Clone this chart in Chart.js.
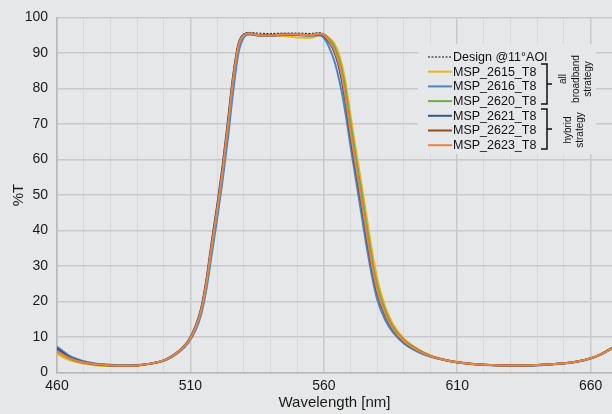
<!DOCTYPE html>
<html>
<head>
<meta charset="utf-8">
<script src="https://cdn.jsdelivr.net/npm/chart.js@4.4.1/dist/chart.umd.min.js"></script>
<style>
  html, body { margin: 0; padding: 0; background: #e6e7e9; overflow: hidden; }
  canvas { display: block; }
</style>
</head>
<body>
<canvas id="spectrum" width="612" height="414"></canvas>
<script>
// wavelength grid (nm), denser on the filter edges
const wavelengths = [460,465,470,475,480,485,490,495,500,503,506,509,512,514,516,518,520,522,524,526,528,530,532,535,540,545,550,555,558,560,562,564,566,568,570,572,574,576,578,580,583,586,590,595,600,605,610,620,630,640,650,655,660,664,668];

// %T
const design  = [6.2,4.0,2.8,2.2,1.9,1.8,1.9,2.4,3.3,4.4,6.1,8.4,12.7,17.3,25.1,35.8,45.8,56.8,69.4,82.9,92.4,95.4,95.8,95.6,95.5,95.6,95.6,95.5,95.7,95.4,93.7,91.2,86.3,78.5,68.1,58.5,49.3,39.7,30.6,23.3,16.6,12.3,8.9,6.3,4.6,3.6,2.9,2.2,2.0,2.1,2.6,3.1,4.0,5.2,6.8];
const msp2615 = [5.2,3.4,2.5,2.0,1.8,1.8,1.9,2.4,3.3,4.4,6.1,8.4,12.7,17.3,25.0,35.6,45.5,56.4,68.9,82.3,91.8,94.9,95.4,95.0,94.8,94.8,94.4,94.3,94.9,95.2,94.2,92.6,88.9,82.4,72.5,62.8,53.6,44.0,34.5,26.5,18.6,13.5,9.6,6.7,4.8,3.7,3.0,2.2,2.0,2.1,2.6,3.1,4.0,5.3,7.0];
const msp2616 = [7.3,4.6,3.2,2.5,2.2,2.0,2.1,2.5,3.3,4.3,5.9,8.1,12.0,16.3,23.5,33.3,43.3,53.8,65.6,79.0,90.0,94.4,95.2,94.9,94.8,95.1,95.1,94.9,95.0,94.3,91.6,87.6,81.6,73.6,63.8,54.4,45.0,35.6,27.3,20.6,14.8,11.2,8.2,5.9,4.4,3.5,2.8,2.1,1.9,2.0,2.5,3.0,3.9,5.1,6.8];
const msp2620 = [5.8,3.8,2.7,2.2,1.9,1.9,2.0,2.5,3.4,4.5,6.2,8.5,12.8,17.4,25.2,35.8,45.7,56.6,69.1,82.5,92.0,95.0,95.4,95.0,94.9,95.2,95.1,94.9,95.3,95.2,93.9,91.8,87.5,80.3,70.2,60.6,51.3,41.6,32.2,24.6,17.5,12.8,9.2,6.5,4.7,3.6,2.9,2.2,2.0,2.1,2.6,3.1,4.0,5.2,6.9];
const msp2621 = [6.8,4.2,3.0,2.3,2.0,1.9,2.0,2.5,3.4,4.6,6.3,8.7,13.2,18.0,26.2,37.0,47.0,58.0,70.6,83.6,92.6,95.2,95.5,95.1,94.9,95.2,95.1,95.0,95.3,94.9,93.0,90.2,84.9,76.8,66.4,56.9,47.8,38.3,29.5,22.4,16.1,12.0,8.7,6.2,4.6,3.6,2.9,2.2,2.0,2.1,2.6,3.1,4.0,5.2,6.9];
const msp2622 = [6.2,4.0,2.8,2.3,2.0,1.9,2.0,2.5,3.4,4.5,6.2,8.5,12.9,17.6,25.6,36.2,46.1,57.0,69.5,82.8,92.2,95.1,95.5,95.1,95.0,95.3,95.2,95.1,95.4,95.1,93.3,90.7,85.6,77.6,67.2,57.7,48.5,39.0,30.0,22.8,16.4,12.2,8.8,6.3,4.6,3.6,2.9,2.2,2.0,2.1,2.6,3.1,4.0,5.2,6.8];
const msp2623 = [6.0,3.9,2.8,2.3,2.0,1.9,2.0,2.5,3.4,4.5,6.2,8.5,12.8,17.4,25.2,35.8,45.6,56.5,69.0,82.4,92.0,95.0,95.5,95.1,94.9,95.2,95.2,95.0,95.4,95.1,93.4,90.8,86.1,78.2,67.8,58.3,49.1,39.5,30.5,23.2,16.6,12.3,8.9,6.3,4.6,3.6,2.9,2.2,2.0,2.1,2.6,3.1,4.0,5.2,6.8];

const seriesNames = ["Design @11°AOI", "MSP_2615_T8", "MSP_2616_T8", "MSP_2620_T8", "MSP_2621_T8", "MSP_2622_T8", "MSP_2623_T8"];
const seriesColors = ["#111111", "#efb320", "#4a87c7", "#6aae4a", "#2c5a8c", "#9a4a20", "#e8844a"];
const xLabelTicks = [460, 510, 560, 610, 660];
const xGridTicks = [460,470,480,490,500,510,520,530,540,550,560,570,580,590,600,610,620,630,640,650,660];
const xMin = 460, xMax = 668;
const yTicks = [0, 10, 20, 30, 40, 50, 60, 70, 80, 90, 100];

const allValues = [design, msp2615, msp2616, msp2620, msp2621, msp2622, msp2623];
const bg = "#e6e7e9";
const fontFam = "'Liberation Sans', Arial, Helvetica, sans-serif";

const datasets = allValues.map((vals, i) => ({
    label: seriesNames[i],
    data: wavelengths.map((w, j) => ({ x: w, y: vals[j] })),
    borderColor: seriesColors[i],
    borderWidth: i === 0 ? 1 : 2,
    borderDash: i === 0 ? [2, 1.5] : [],
    pointRadius: 0,
    cubicInterpolationMode: "monotone",
    fill: false,
    // design underneath, MSP_2623 on top
    order: i === 0 ? 10 : 8 - i
}));

const backdrop = {
    id: "backdrop",
    beforeDraw(chart) {
        const c = chart.ctx;
        c.save();
        c.fillStyle = bg;
        c.fillRect(0, 0, chart.width, chart.height);
        c.restore();
    }
};

const sideLegend = {
    id: "sideLegend",
    afterDraw(chart) {
        const c = chart.ctx;
        c.save();
        c.fillStyle = bg;
        c.fillRect(418, 44, 178, 110);

        const rowY0 = 57, rowStep = 14.7;
        c.font = "12.5px " + fontFam;
        c.textBaseline = "middle";
        c.textAlign = "left";
        chart.data.datasets.forEach((ds, i) => {
            const y = rowY0 + i * rowStep;
            c.beginPath();
            c.strokeStyle = ds.borderColor;
            c.lineWidth = i === 0 ? 1 : 2;
            c.setLineDash(ds.borderDash || []);
            c.moveTo(428, y);
            c.lineTo(452, y);
            c.stroke();
            c.setLineDash([]);
            c.fillStyle = "#111";
            c.fillText(ds.label, 453, y + 0.5);
        });

        // brackets
        c.strokeStyle = "#111";
        c.lineWidth = 1.5;
        const bracket = (y1, y2) => {
            const ym = (y1 + y2) / 2;
            c.beginPath();
            c.moveTo(541, y1); c.lineTo(547, y1); c.lineTo(547, y2); c.lineTo(541, y2);
            c.moveTo(547, ym); c.lineTo(552, ym);
            c.stroke();
        };
        bracket(64, 104);
        bracket(109, 149);

        // rotated group captions
        c.font = "10px " + fontFam;
        c.textAlign = "center";
        const vtext = (txt, x, y) => {
            c.save();
            c.translate(x, y);
            c.rotate(-Math.PI / 2);
            c.fillText(txt, 0, 0);
            c.restore();
        };
        vtext("all", 563, 79);
        vtext("broadband", 576.5, 79);
        vtext("strategy", 588, 79);
        vtext("hybrid", 568, 130);
        vtext("strategy", 580, 130);
        c.restore();
    }
};

new Chart(document.getElementById("spectrum"), {
    type: "line",
    data: { datasets: datasets },
    options: {
        responsive: false,
        animation: false,
        devicePixelRatio: 1,
        layout: { padding: { top: 17.5, right: 0, left: 0, bottom: 0 } },
        plugins: { legend: { display: false }, tooltip: { enabled: false } },
        scales: {
            x: {
                type: "linear",
                min: xMin,
                max: xMax,
                afterFit: s => { s.height = 41.5; },
                afterBuildTicks: s => { s.ticks = xGridTicks.map(v => ({ value: v })); },
                ticks: {
                    autoSkip: false,
                    maxRotation: 0,
                    padding: 5,
                    color: "#1a1a1a",
                    font: { family: fontFam, size: 14 },
                    callback: v => xLabelTicks.includes(v) ? String(v) : ""
                },
                grid: {
                    drawTicks: false,
                    color: ctx => (ctx.tick && xLabelTicks.includes(ctx.tick.value)) ? "#c8c9cb" : "#d8d9db",
                    lineWidth: ctx => (ctx.tick && xLabelTicks.includes(ctx.tick.value)) ? 1.5 : 1
                },
                border: { color: "#b7b8ba", width: 1.5 },
                title: {
                    display: true,
                    text: "Wavelength [nm]",
                    color: "#1a1a1a",
                    font: { family: fontFam, size: 15 },
                    padding: { top: 0, bottom: 2 }
                }
            },
            y: {
                min: 0,
                max: 100,
                afterFit: s => { s.width = 57; },
                afterBuildTicks: s => { s.ticks = yTicks.map(v => ({ value: v })); },
                ticks: {
                    padding: 9,
                    color: "#1a1a1a",
                    font: { family: fontFam, size: 14 }
                },
                grid: { drawTicks: false, color: "#c8c9cb", lineWidth: 1.5 },
                border: { color: "#b7b8ba", width: 1.5 },
                title: {
                    display: true,
                    text: "%T",
                    color: "#1a1a1a",
                    font: { family: fontFam, size: 15 },
                    padding: { top: 10, bottom: 0 }
                }
            }
        }
    },
    plugins: [backdrop, sideLegend]
});
</script>
</body>
</html>
